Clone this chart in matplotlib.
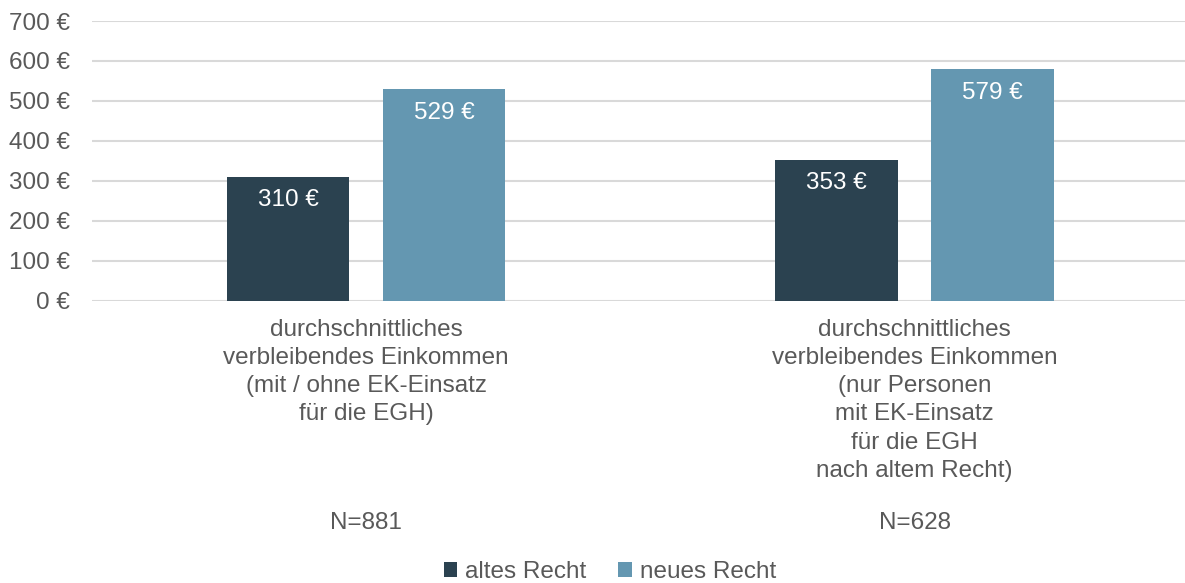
import numpy as np
import matplotlib
matplotlib.use("Agg")
import matplotlib.pyplot as plt

# Data
categories = [
    "durchschnittliches\nverbleibendes Einkommen\n(mit / ohne EK-Einsatz\nfür die EGH)",
    "durchschnittliches\nverbleibendes Einkommen\n(nur Personen\nmit EK-Einsatz\nfür die EGH\nnach altem Recht)",
]
n_labels = ["N=881", "N=628"]
series_names = ["altes Recht", "neues Recht"]
altes = [310, 353]
neues = [529, 579]
colors = ["#2B4250", "#6497B1"]
yticks = [0, 100, 200, 300, 400, 500, 600, 700]

text_col = "#595959"
fs = 17.5
plt.rcParams['font.family'] = ['Liberation Sans', 'DejaVu Sans']

fig = plt.figure(figsize=(11.85, 5.83), dpi=100)
ax = fig.add_axes([92 / 1185, 1 - 300.5 / 583, 1 - 92 / 1185, (300.5 - 21) / 583])

x = np.arange(len(categories))
w = 0.2233
off = 0.1422
b1 = ax.bar(x - off, altes, w, color=colors[0], label=series_names[0], zorder=3)
b2 = ax.bar(x + off, neues, w, color=colors[1], label=series_names[1], zorder=3)

for bars in (b1, b2):
    for rect in bars:
        h = rect.get_height()
        ax.annotate(f"{h:.0f} €", (rect.get_x() + rect.get_width() / 2, h),
                    xytext=(0, -17), textcoords="offset points",
                    ha="center", va="center", color="white", fontsize=fs, zorder=4)

ax.set_xlim(-0.5, 1.493)
ax.set_ylim(0, 700)
ax.set_yticks(yticks)
ax.set_yticklabels([f"{v} €" for v in yticks], color=text_col, fontsize=fs)
ax.tick_params(axis="y", length=0, pad=16)
ax.set_xticks(x)
ax.set_xticklabels(categories, color=text_col, fontsize=fs, linespacing=1.37)
ax.tick_params(axis="x", length=0, pad=13)
ax.grid(axis="y", color="#D9D9D9", linewidth=1.5, zorder=0)
for s in ax.spines.values():
    s.set_visible(False)

# N labels
for xi, lab in zip(x, n_labels):
    ax.annotate(lab, (xi, 0), xytext=(0, -(523 - 300.5) * 72 / 100), textcoords="offset points",
                ha="center", va="center", color=text_col, fontsize=fs)

leg = fig.legend(loc="center", bbox_to_anchor=(610 / 1185, 1 - 572 / 583), ncol=2, frameon=False,
                 fontsize=fs, handlelength=0.55, handleheight=0.55, handletextpad=0.35,
                 columnspacing=1.3)
for t in leg.get_texts():
    t.set_color(text_col)

fig.savefig("out.png", dpi=100)
